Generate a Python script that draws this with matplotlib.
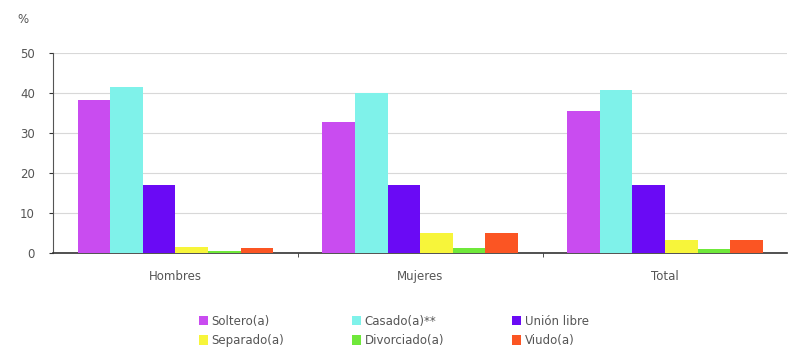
import numpy as np
import matplotlib.pyplot as plt

grupos = ['Hombres', 'Mujeres', 'Total']
series = ['Soltero(a)', 'Casado(a)**', 'Unión libre', 'Separado(a)', 'Divorciado(a)', 'Viudo(a)']
soltero = [38.3, 32.8, 35.6]
casado = [41.5, 40.0, 40.8]
union_libre = [17.0, 17.0, 17.0]
separado = [1.5, 4.9, 3.2]
divorciado = [0.5, 1.3, 1.0]
viudo = [1.3, 4.9, 3.2]
valores = [soltero, casado, union_libre, separado, divorciado, viudo]
colores = ['#c94cf0', '#7ff2ea', '#6a0af5', '#f7f53a', '#6fe83a', '#fb5523']

fig = plt.figure(figsize=(7.92, 3.49), dpi=100)
ax = fig.add_axes([0.067, 0.275, 0.927, 0.573])

x = np.arange(len(grupos))
ancho = 0.8 / len(series)
barras = []
for i, (nombre, vals) in enumerate(zip(series, valores)):
    pos = x - 0.4 + ancho * (i + 0.5)
    b = ax.bar(pos, vals, width=ancho, color=colores[i], label=nombre, zorder=3)
    barras.append(b)

ax.set_xlim(-0.5, 2.5)
ax.set_ylim(0, 50)
ax.set_yticks([0, 10, 20, 30, 40, 50])
ax.set_xticks(x)
ax.set_xticklabels(grupos)
ax.set_xticks([0.5, 1.5], minor=True)
ax.tick_params(axis='x', which='major', length=0, pad=12, labelsize=8.5, labelcolor='#555555')
ax.tick_params(axis='x', which='minor', length=3, direction='out', color='#333333')
ax.tick_params(axis='y', length=3, labelsize=8.5, labelcolor='#555555', color='#333333', pad=10)
ax.grid(axis='y', color='#d8d8d8', linewidth=0.8, zorder=0)
for s in ['top', 'right']:
    ax.spines[s].set_visible(False)
ax.spines['left'].set_color('#555555')
ax.spines['bottom'].set_color('#333333')
ax.spines['bottom'].set_linewidth(1.2)

fig.text(0.022, 0.935, '%', fontsize=8.5, color='#555555')

# leyenda por filas: reordenar para ncol=3
orden = [0, 3, 1, 4, 2, 5]
h = [barras[k] for k in orden]
l = [series[k] for k in orden]
fig.legend(h, l, ncol=3, loc='center', bbox_to_anchor=(0.497, 0.052), frameon=False,
           fontsize=8.5, labelcolor='#555555', handlelength=0.8, handleheight=0.8,
           handletextpad=0.3, columnspacing=5.7, labelspacing=0.55)

plt.savefig('out.png', dpi=100)
